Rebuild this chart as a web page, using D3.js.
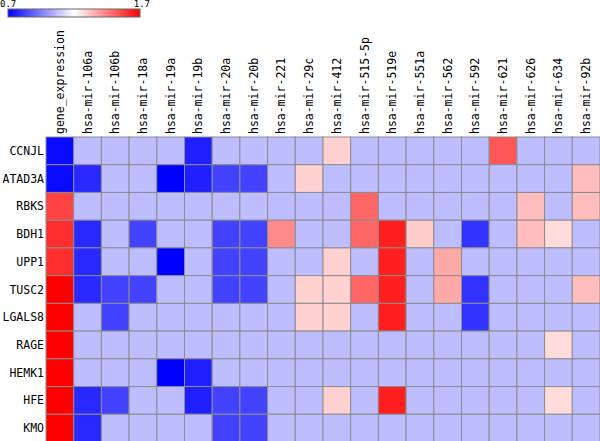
<!DOCTYPE html>
<html><head><meta charset="utf-8">
<script src="https://cdn.jsdelivr.net/npm/d3@7"></script>
<style>body{margin:0;background:#fff}svg{display:block}</style>
</head><body>
<script>
const rows = ["CCNJL","ATAD3A","RBKS","BDH1","UPP1","TUSC2","LGALS8","RAGE","HEMK1","HFE","KMO"];
const cols = ["gene_expression","hsa-mir-106a","hsa-mir-106b","hsa-mir-18a","hsa-mir-19a","hsa-mir-19b","hsa-mir-20a","hsa-mir-20b","hsa-mir-221","hsa-mir-29c","hsa-mir-412","hsa-mir-515-5p","hsa-mir-519e","hsa-mir-551a","hsa-mir-562","hsa-mir-592","hsa-mir-621","hsa-mir-626","hsa-mir-634","hsa-mir-92b"];
const L = 1.07; // baseline
const values = [
 [0.72,L,L,L,L,0.76,L,L,L,L,1.29,L,L,L,L,L,1.53,L,L,L],
 [0.72,0.78,L,L,0.70,0.76,0.83,0.83,L,1.29,L,L,L,L,L,L,L,L,L,1.33],
 [1.57,L,L,L,L,L,L,L,L,L,L,1.50,L,L,L,L,L,1.33,L,1.33],
 [1.61,0.78,L,0.83,L,L,0.83,0.83,1.43,L,L,1.50,1.64,1.30,L,0.80,L,1.33,1.27,L],
 [1.61,0.78,L,L,0.70,L,0.83,0.83,L,L,1.29,L,1.64,L,1.37,L,L,L,L,L],
 [1.70,0.78,0.83,0.83,L,L,0.83,0.83,L,1.29,1.29,1.50,1.64,L,1.37,0.80,L,L,L,1.33],
 [1.70,L,0.83,L,L,L,L,L,L,1.29,1.29,L,1.64,L,L,0.80,L,L,L,L],
 [1.70,L,L,L,L,L,L,L,L,L,L,L,L,L,L,L,L,L,1.27,L],
 [1.70,L,L,L,0.70,0.76,L,L,L,L,L,L,L,L,L,L,L,L,L,L],
 [1.70,0.78,0.83,L,L,0.76,0.83,0.83,L,L,1.29,L,1.64,L,L,L,L,L,1.27,L],
 [1.70,0.78,L,L,L,L,0.83,0.83,L,L,L,L,L,L,L,L,L,L,L,L]
];
const legendTicks = ["0.7","1.7"];
const domain = [0.7, 1.2, 1.7];

const W = 600, H = 441;
const svg = d3.select("body").append("svg").attr("width", W).attr("height", H);
const font = "'DejaVu Sans Mono', 'Liberation Mono', monospace";

const x = d3.scaleBand().domain(cols).range([46, 600]).padding(0);
const y = d3.scaleBand().domain(rows).range([137, 442]).padding(0);
const color = d3.scaleLinear().domain(domain).range(["#0000ff", "#ffffff", "#ff0000"]).clamp(true);

const cells = [];
rows.forEach((r, i) => cols.forEach((c, j) => cells.push({r, c, v: values[i][j]})));

svg.append("g").selectAll("rect").data(cells).join("rect")
  .attr("x", d => x(d.c)).attr("y", d => y(d.r))
  .attr("width", x.bandwidth()).attr("height", y.bandwidth())
  .attr("fill", d => color(d.v))
  .attr("stroke", "#8c8c8c").attr("stroke-width", 1);

// column labels
svg.append("g").selectAll("text").data(cols).join("text")
  .attr("transform", d => `translate(${x(d) + x.bandwidth()/2 + 4},134) rotate(-90)`)
  .attr("font-family", font).attr("font-size", 11.5).attr("fill", "#000")
  .text(d => d);

// row labels
svg.append("g").selectAll("text").data(rows).join("text")
  .attr("x", 44).attr("y", d => y(d) + y.bandwidth()/2 + 4)
  .attr("text-anchor", "end")
  .attr("font-family", font).attr("font-size", 11.5).attr("fill", "#000")
  .text(d => d);

// legend
const defs = svg.append("defs");
const grad = defs.append("linearGradient").attr("id", "lg");
grad.selectAll("stop").data(domain).join("stop")
  .attr("offset", (d, i) => (i / (domain.length - 1) * 100) + "%")
  .attr("stop-color", d => color(d));
const lx = d3.scaleLinear().domain([0.7, 1.7]).range([8, 140]);
svg.append("rect").attr("x", lx(0.7)).attr("y", 9).attr("width", lx(1.7) - lx(0.7)).attr("height", 8)
  .attr("fill", "url(#lg)").attr("stroke", "#666").attr("stroke-width", 1);
svg.append("text").attr("x", 0).attr("y", 7).attr("font-family", font).attr("font-size", 9)
  .text(legendTicks[0]);
svg.append("text").attr("x", 150).attr("y", 7).attr("text-anchor", "end").attr("font-family", font).attr("font-size", 9)
  .text(legendTicks[1]);
</script>
</body></html>
